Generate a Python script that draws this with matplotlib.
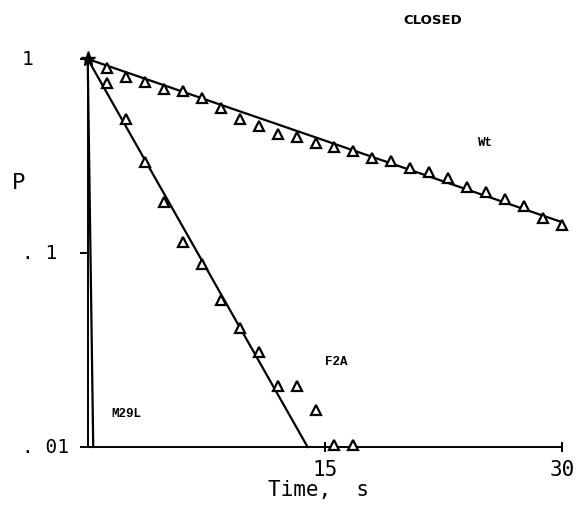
import matplotlib.pyplot as plt
import matplotlib.transforms as mtransforms

# sampling times (s) of the open-probability points
wt_t = [1.2 * k for k in range(1, 26)]
wt_p = [0.896, 0.810, 0.764, 0.700, 0.687, 0.627, 0.557, 0.491, 0.453, 0.411,
        0.398, 0.368, 0.351, 0.336, 0.308, 0.298, 0.275, 0.261, 0.245, 0.220,
        0.206, 0.190, 0.175, 0.151, 0.139]

f2a_t = [1.2 * k for k in range(1, 15)]
f2a_p = [0.755, 0.489, 0.296, 0.184, 0.114, 0.0877, 0.0573, 0.0412, 0.0310,
         0.0207, 0.0207, 0.0155, 0.0103, 0.0103]

# single-exponential fits (end points)
wt_fit_t, wt_fit_p = [0, 30], [1, 0.144]
f2a_fit_t, f2a_fit_p = [0, 13.9], [1, 0.01]
m29l_fit_t, m29l_fit_p = [0, 0.35], [1, 0.01]

W, H = 579, 511
fig = plt.figure(figsize=(W / 100, H / 100), dpi=100)
ax = fig.add_axes([87.7 / W, 1 - 447 / H, (562.3 - 87.7) / W, (447 - 59) / H])

ax.set_yscale("log")
ax.set_xlim(0, 30)
ax.set_ylim(0.01, 1)

for t, p in [(wt_fit_t, wt_fit_p), (f2a_fit_t, f2a_fit_p), (m29l_fit_t, m29l_fit_p)]:
    ax.plot(t, p, color="black", lw=1.6, clip_on=False)

for t, p in [(wt_t, wt_p), (f2a_t, f2a_p)]:
    ax.plot(t, p, linestyle="none", marker="^", ms=6.5, mfc="white",
            mec="black", mew=1.6, clip_on=False, zorder=3)

ax.plot([0], [1], marker="*", ms=11, color="black", clip_on=False, zorder=4)

ax.spines["top"].set_visible(False)
ax.spines["right"].set_visible(False)
ax.spines["left"].set_linewidth(1.4)
ax.spines["bottom"].set_linewidth(1.4)

ax.set_xticks([15, 30])
ax.set_xticklabels(["15", "30"], family="DejaVu Sans Mono", fontsize=15)
ax.tick_params(axis="x", direction="inout", length=7, width=1.4, pad=6)
ax.set_yticks([0.01, 0.1, 1])
ax.set_yticklabels([])
ax.minorticks_off()
ax.tick_params(axis="y", which="both", direction="out", length=6, width=1.4)
ax.yaxis.set_minor_locator(plt.NullLocator())

# y tick labels, left aligned as on the plotter
tr = mtransforms.blended_transform_factory(fig.transFigure, ax.transData)
for val, lab in [(1, "1"), (0.1, ". 1"), (0.01, ". 01")]:
    ax.text(22 / W, val, lab, transform=tr, ha="left", va="center",
            family="DejaVu Sans Mono", fontsize=14)

fig.text(12 / W, 1 - 183 / H, "P", ha="left", va="center",
         family="DejaVu Sans Mono", fontsize=16)
fig.text(318 / W, 1 - 490 / H, "Time,  s", ha="center", va="center",
         family="DejaVu Sans Mono", fontsize=15)
fig.text(433 / W, 1 - 21 / H, "CLOSED", ha="center", va="center",
         family="DejaVu Sans", fontweight="bold", fontsize=9.5)

for x, y, lab in [(485, 143, "Wt"), (336, 362, "F2A"), (126, 414, "M29L")]:
    fig.text(x / W, 1 - y / H, lab, ha="center", va="center",
             family="Liberation Mono", fontweight="bold", fontsize=9)

fig.savefig("out.png", dpi=100)
